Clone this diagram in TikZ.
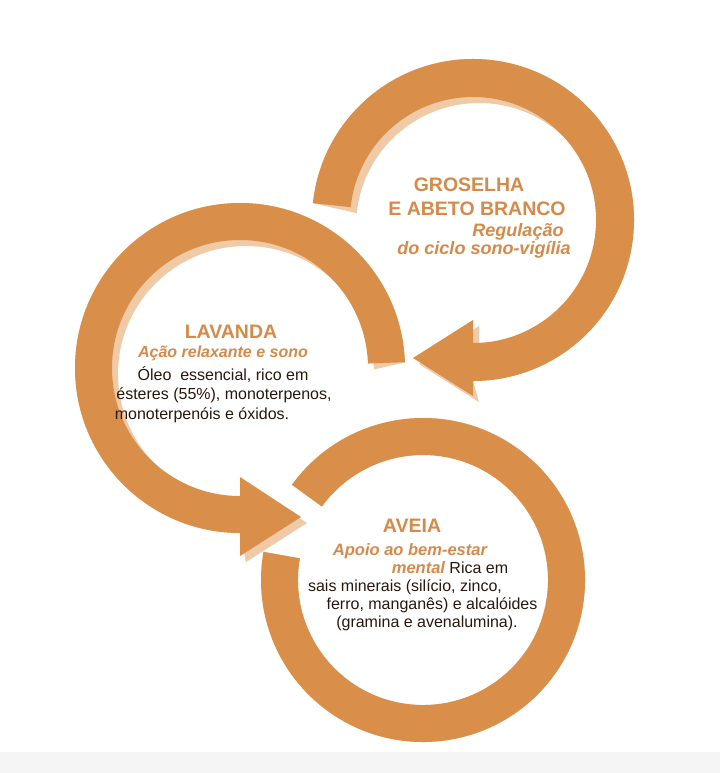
\documentclass[tikz,border=0pt]{standalone}
\usepackage{fontspec}
\setmainfont{Liberation Sans}
\usetikzlibrary{positioning}

\definecolor{band}{RGB}{217,143,74}
\definecolor{bandshade}{RGB}{240,201,166}
\definecolor{heading}{RGB}{214,137,72}
\definecolor{bodytext}{RGB}{40,24,14}

\begin{document}
\begin{tikzpicture}[x=1pt, y=-1pt,
    every node/.style={font={\fontsize{16}{19}\selectfont}, text=bodytext, inner sep=0pt},
    headline/.style={font={\fontsize{19.5}{22}\selectfont\bfseries}, text=heading},
    subline/.style={font={\fontsize{18}{21}\selectfont\bfseries\itshape}, text=heading},
    smallsub/.style={subline, font={\fontsize{16}{19}\selectfont\bfseries\itshape}}]
    \useasboundingbox (0,0) rectangle (720,773);
    \fill[gray!8] (0,752) rectangle (720,773);

    \coordinate (ctop) at (473,220);
    \coordinate (cmid) at (240,368);
    \coordinate (cbot) at (423,580);

    % top arrow
    \foreach \dx/\col in {6/bandshade, 0/band} {
      \fill[\col, shift={(\dx,\dx)}] (ctop) ++(-174:161) arc[start angle=-174, end angle=90, radius=161]
        -- (473,396) -- (413,358) -- (473,320) -- (473,343)
        arc[start angle=90, end angle=-174, radius=123] -- cycle;
    }
    % middle arrow
    \foreach \dx/\col in {6/bandshade, 0/band} {
      \fill[\col, shift={(\dx,\dx)}] (cmid) ++(-2:165) arc[start angle=-2, end angle=-270, radius=165]
        -- (240,556) -- (301,517) -- (240,477) -- (240,496)
        arc[start angle=-270, end angle=-2, radius=128] -- cycle;
    }
    % bottom ring
    \foreach \dx/\col in {6/bandshade, 0/band} {
      \fill[\col, shift={(\dx,\dx)}] (cbot) ++(-144:162) arc[start angle=-144, end angle=190, radius=162]
        -- ++(10:37) arc[start angle=190, end angle=-144, radius=125] -- cycle;
    }

    \node[headline] (groselha) at (469,185) {GROSELHA};
    \node[headline] (abeto) at (477,209) {E ABETO BRANCO};
    \node[subline] (regulacao) at (518,232) {Regulação};
    \node[subline] (ciclo) at (484,250) {do ciclo sono-vigília};

    \node[headline] (lavanda) at (231,332) {LAVANDA};
    \node[smallsub] (acao) at (223,353) {Ação relaxante e sono};
    \node (oleo) at (223,375) {Óleo\ \ essencial, rico em};
    \node (esteres) at (224,395) {ésteres (55\%), monoterpenos,};
    \node (oxidos) at (202,415) {monoterpenóis e óxidos.};

    \node[headline] (aveia) at (412,526) {AVEIA};
    \node[smallsub, font={\fontsize{16.5}{19}\selectfont\bfseries\itshape}] (apoio) at (410,551) {Apoio ao bem-estar};
    \node (mental) at (450,568) {\textcolor{heading}{\fontsize{16.5}{19}\selectfont\bfseries\itshape mental} Rica em};
    \node (sais) at (405,587) {sais minerais (silício, zinco,};
    \node (ferro) at (432,605) {ferro, manganês) e alcalóides};
    \node (gramina) at (427,623) {(gramina e avenalumina).};
\end{tikzpicture}
\end{document}
